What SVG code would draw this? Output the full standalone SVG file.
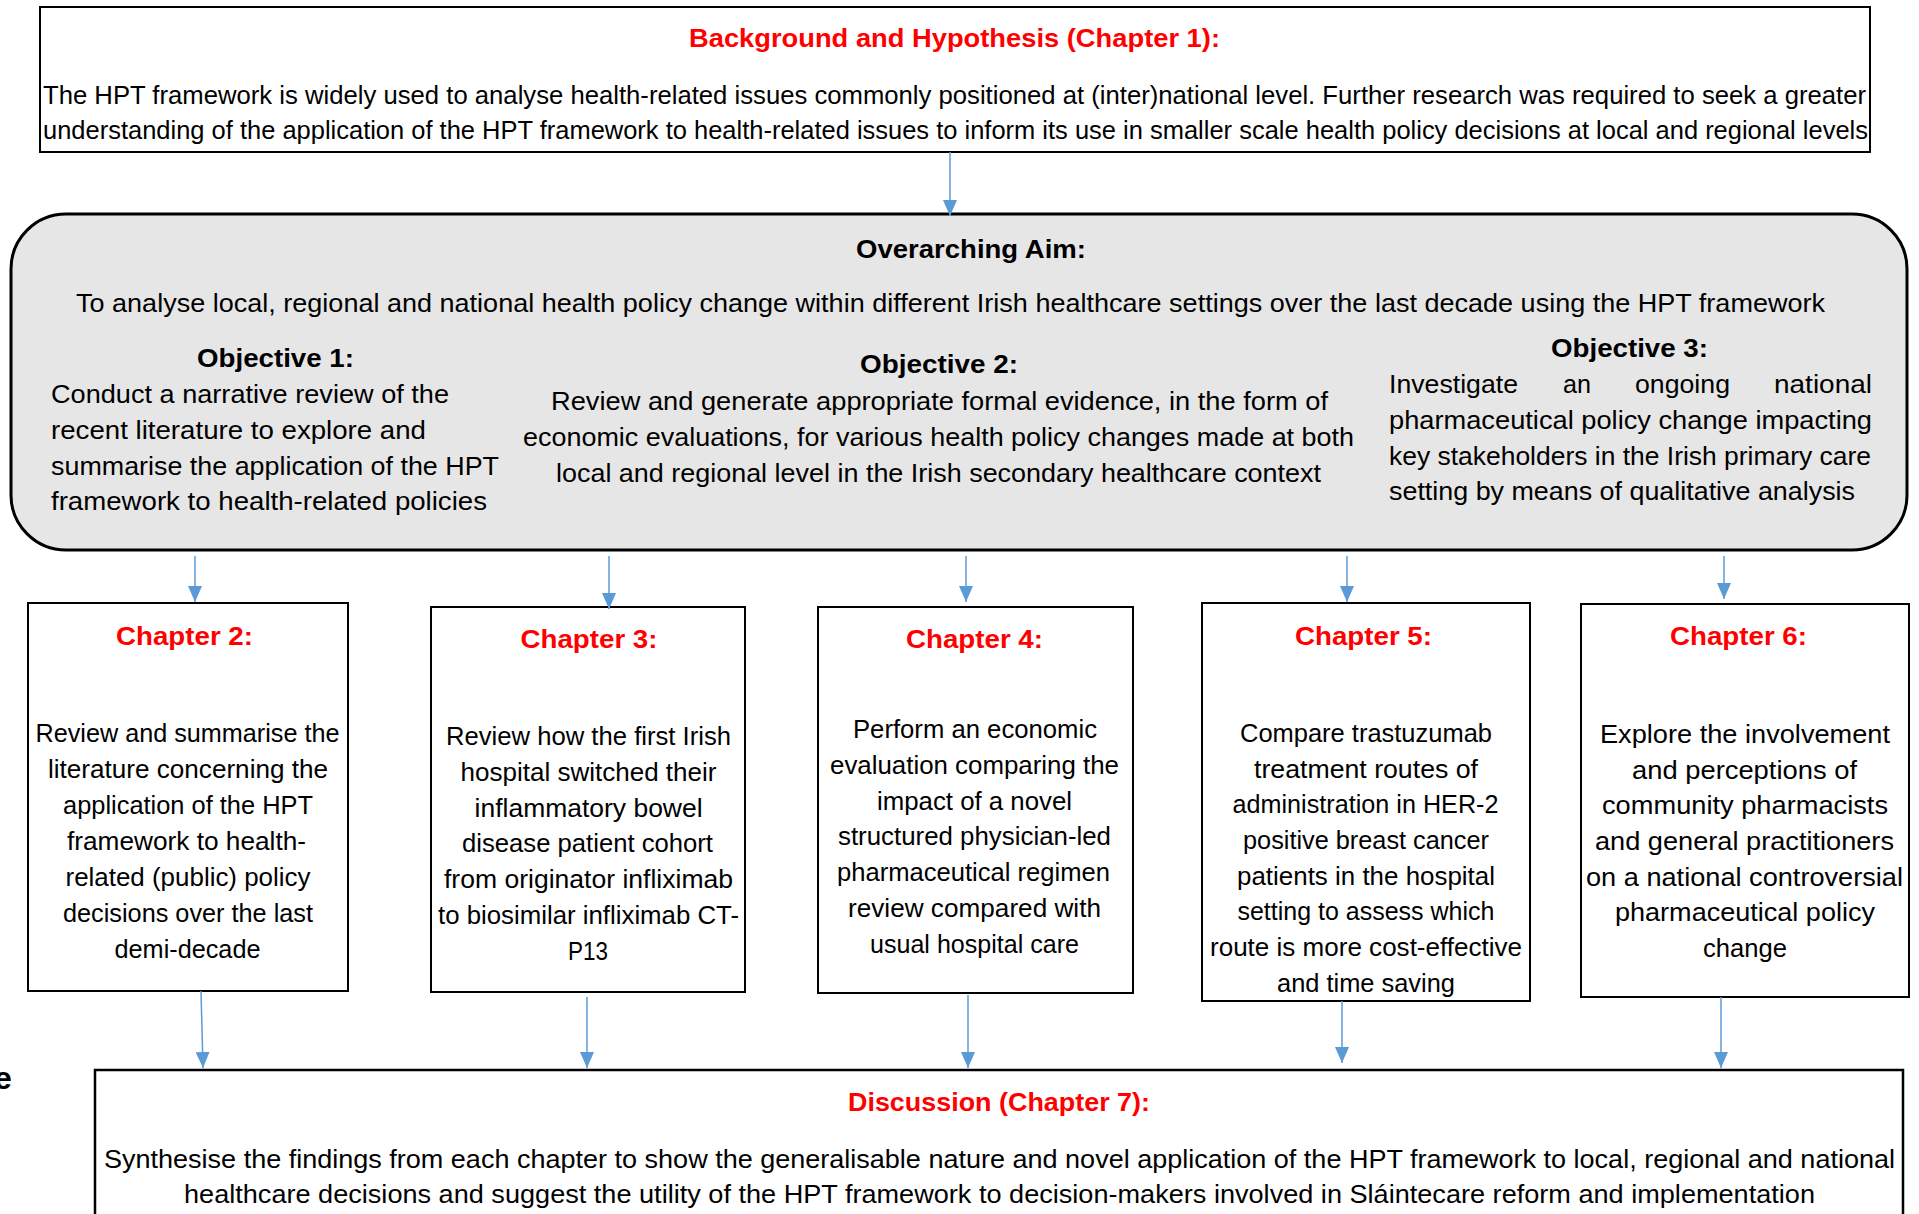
<svg xmlns="http://www.w3.org/2000/svg" width="1919" height="1214" viewBox="0 0 1919 1214">
<style>
text{font-family:"Liberation Sans",Arial,sans-serif;font-size:26px;fill:#000}
.b{font-weight:bold}
.r{fill:#ff0000;font-weight:bold}
.box{fill:#fff;stroke:#000;stroke-width:2}
.gray{fill:#e7e6e6;stroke:#000;stroke-width:3}
.con line{stroke:#5b9bd5;stroke-width:1.5;marker-end:url(#ah)}
</style>
<defs>
<marker id="ah" viewBox="0 0 16 14" refX="16" refY="7" markerWidth="16" markerHeight="14" orient="auto" markerUnits="userSpaceOnUse">
<path d="M0,0 L16,7 L0,14 z" fill="#5b9bd5"/>
</marker>
</defs>
<rect width="1919" height="1214" fill="#fff"/>

<g id="background">
<rect class="box" x="40" y="7" width="1830" height="145"/>
<text class="r" x="689" y="47" textLength="531" lengthAdjust="spacingAndGlyphs">Background and Hypothesis (Chapter 1):</text>
<text x="43" y="104" textLength="1823" lengthAdjust="spacingAndGlyphs">The HPT framework is widely used to analyse health-related issues commonly positioned at (inter)national level. Further research was required to seek a greater</text>
<text x="43" y="139" textLength="1825" lengthAdjust="spacingAndGlyphs">understanding of the application of the HPT framework to health-related issues to inform its use in smaller scale health policy decisions at local and regional levels</text>
</g>

<g id="aim">
<rect class="gray" x="11" y="214" width="1896" height="336" rx="55" ry="55"/>
<text class="b" x="856" y="258" textLength="230" lengthAdjust="spacingAndGlyphs">Overarching Aim:</text>
<text x="76" y="312" textLength="1749" lengthAdjust="spacingAndGlyphs">To analyse local, regional and national health policy change within different Irish healthcare settings over the last decade using the HPT framework</text>
<text class="b" x="197" y="367" textLength="157" lengthAdjust="spacingAndGlyphs">Objective 1:</text>
<text x="51" y="403" textLength="398" lengthAdjust="spacingAndGlyphs">Conduct a narrative review of the</text>
<text x="51" y="439" textLength="375" lengthAdjust="spacingAndGlyphs">recent literature to explore and</text>
<text x="51" y="475" textLength="448" lengthAdjust="spacingAndGlyphs">summarise the application of the HPT</text>
<text x="51" y="510" textLength="436" lengthAdjust="spacingAndGlyphs">framework to health-related policies</text>
<text class="b" x="860" y="373" textLength="158" lengthAdjust="spacingAndGlyphs">Objective 2:</text>
<text x="551" y="410" textLength="777" lengthAdjust="spacingAndGlyphs">Review and generate appropriate formal evidence, in the form of</text>
<text x="523" y="446" textLength="831" lengthAdjust="spacingAndGlyphs">economic evaluations, for various health policy changes made at both</text>
<text x="556" y="482" textLength="765" lengthAdjust="spacingAndGlyphs">local and regional level in the Irish secondary healthcare context</text>
<text class="b" x="1551" y="357" textLength="157" lengthAdjust="spacingAndGlyphs">Objective 3:</text>
<text y="393"><tspan x="1389" textLength="129" lengthAdjust="spacingAndGlyphs">Investigate</tspan><tspan x="1563" textLength="28" lengthAdjust="spacingAndGlyphs">an</tspan><tspan x="1635" textLength="95" lengthAdjust="spacingAndGlyphs">ongoing</tspan><tspan x="1774" textLength="98" lengthAdjust="spacingAndGlyphs">national</tspan></text>
<text x="1389" y="429" textLength="483" lengthAdjust="spacingAndGlyphs">pharmaceutical policy change impacting</text>
<text x="1389" y="465" textLength="482" lengthAdjust="spacingAndGlyphs">key stakeholders in the Irish primary care</text>
<text x="1389" y="500" textLength="466" lengthAdjust="spacingAndGlyphs">setting by means of qualitative analysis</text>
</g>

<g id="chapter2">
<rect class="box" x="28" y="603" width="320" height="388"/>
<text class="r" x="116" y="645" textLength="137" lengthAdjust="spacingAndGlyphs">Chapter 2:</text>
<text x="35.5" y="742" textLength="304" lengthAdjust="spacingAndGlyphs">Review and summarise the</text>
<text x="48" y="778" textLength="280" lengthAdjust="spacingAndGlyphs">literature concerning the</text>
<text x="63" y="814" textLength="250" lengthAdjust="spacingAndGlyphs">application of the HPT</text>
<text x="67" y="850" textLength="239" lengthAdjust="spacingAndGlyphs">framework to health-</text>
<text x="65.5" y="886" textLength="245" lengthAdjust="spacingAndGlyphs">related (public) policy</text>
<text x="63" y="922" textLength="250" lengthAdjust="spacingAndGlyphs">decisions over the last</text>
<text x="114.5" y="958" textLength="146" lengthAdjust="spacingAndGlyphs">demi-decade</text>
</g>

<g id="chapter3">
<rect class="box" x="431" y="607" width="314" height="385"/>
<text class="r" x="520.5" y="648" textLength="137" lengthAdjust="spacingAndGlyphs">Chapter 3:</text>
<text x="446" y="745" textLength="285" lengthAdjust="spacingAndGlyphs">Review how the first Irish</text>
<text x="460.5" y="781" textLength="256" lengthAdjust="spacingAndGlyphs">hospital switched their</text>
<text x="474.6" y="817" textLength="228" lengthAdjust="spacingAndGlyphs">inflammatory bowel</text>
<text x="462" y="852" textLength="251" lengthAdjust="spacingAndGlyphs">disease patient cohort</text>
<text x="444" y="888" textLength="289" lengthAdjust="spacingAndGlyphs">from originator infliximab</text>
<text x="438" y="924" textLength="301" lengthAdjust="spacingAndGlyphs">to biosimilar infliximab CT-</text>
<text x="568" y="960" textLength="40" lengthAdjust="spacingAndGlyphs">P13</text>
</g>

<g id="chapter4">
<rect class="box" x="818" y="607" width="315" height="386"/>
<text class="r" x="906" y="648" textLength="137" lengthAdjust="spacingAndGlyphs">Chapter 4:</text>
<text x="853" y="738" textLength="244" lengthAdjust="spacingAndGlyphs">Perform an economic</text>
<text x="830" y="774" textLength="289" lengthAdjust="spacingAndGlyphs">evaluation comparing the</text>
<text x="877" y="810" textLength="195" lengthAdjust="spacingAndGlyphs">impact of a novel</text>
<text x="838" y="845" textLength="273" lengthAdjust="spacingAndGlyphs">structured physician-led</text>
<text x="837" y="881" textLength="273" lengthAdjust="spacingAndGlyphs">pharmaceutical regimen</text>
<text x="848" y="917" textLength="253" lengthAdjust="spacingAndGlyphs">review compared with</text>
<text x="870" y="953" textLength="209" lengthAdjust="spacingAndGlyphs">usual hospital care</text>
</g>

<g id="chapter5">
<rect class="box" x="1202" y="603" width="328" height="398"/>
<text class="r" x="1295" y="645" textLength="137" lengthAdjust="spacingAndGlyphs">Chapter 5:</text>
<text x="1240" y="742" textLength="252" lengthAdjust="spacingAndGlyphs">Compare trastuzumab</text>
<text x="1254" y="778" textLength="224" lengthAdjust="spacingAndGlyphs">treatment routes of</text>
<text x="1232.5" y="813" textLength="266" lengthAdjust="spacingAndGlyphs">administration in HER-2</text>
<text x="1243" y="849" textLength="246" lengthAdjust="spacingAndGlyphs">positive breast cancer</text>
<text x="1237" y="885" textLength="258" lengthAdjust="spacingAndGlyphs">patients in the hospital</text>
<text x="1237.4" y="920" textLength="257" lengthAdjust="spacingAndGlyphs">setting to assess which</text>
<text x="1210" y="956" textLength="312" lengthAdjust="spacingAndGlyphs">route is more cost-effective</text>
<text x="1277" y="992" textLength="178" lengthAdjust="spacingAndGlyphs">and time saving</text>
</g>

<g id="chapter6">
<rect class="box" x="1581" y="604" width="328" height="393"/>
<text class="r" x="1670" y="645" textLength="137" lengthAdjust="spacingAndGlyphs">Chapter 6:</text>
<text x="1600" y="743" textLength="290" lengthAdjust="spacingAndGlyphs">Explore the involvement</text>
<text x="1632" y="779" textLength="225" lengthAdjust="spacingAndGlyphs">and perceptions of</text>
<text x="1602" y="814" textLength="286" lengthAdjust="spacingAndGlyphs">community pharmacists</text>
<text x="1595" y="850" textLength="299" lengthAdjust="spacingAndGlyphs">and general practitioners</text>
<text x="1586" y="886" textLength="317" lengthAdjust="spacingAndGlyphs">on a national controversial</text>
<text x="1615" y="921" textLength="260" lengthAdjust="spacingAndGlyphs">pharmaceutical policy</text>
<text x="1703" y="957" textLength="84" lengthAdjust="spacingAndGlyphs">change</text>
</g>

<g id="discussion">
<rect class="box" x="95" y="1070" width="1808" height="170" style="stroke-width:2.5"/>
<text class="r" x="848" y="1111" textLength="302" lengthAdjust="spacingAndGlyphs">Discussion (Chapter 7):</text>
<text x="104" y="1168" textLength="1791" lengthAdjust="spacingAndGlyphs">Synthesise the findings from each chapter to show the generalisable nature and novel application of the HPT framework to local, regional and national</text>
<text x="184" y="1203" textLength="1631" lengthAdjust="spacingAndGlyphs">healthcare decisions and suggest the utility of the HPT framework to decision-makers involved in Sláintecare reform and implementation</text>
</g>

<g id="stray">
<text class="b" x="-6" y="1089" style="font-size:32px">e</text>
</g>

<g id="connectors" class="con">
<line x1="950" y1="152" x2="950" y2="216"/>
<line x1="195" y1="556" x2="195" y2="602"/>
<line x1="609" y1="556" x2="609" y2="609"/>
<line x1="966" y1="556" x2="966" y2="602"/>
<line x1="1347" y1="556" x2="1347" y2="602"/>
<line x1="1724" y1="556" x2="1724" y2="599"/>
<line x1="201" y1="991" x2="203" y2="1068"/>
<line x1="587" y1="997" x2="587" y2="1068"/>
<line x1="968" y1="995" x2="968" y2="1068"/>
<line x1="1342" y1="1001" x2="1342" y2="1063"/>
<line x1="1721" y1="997" x2="1721" y2="1068"/>
</g>
</svg>
